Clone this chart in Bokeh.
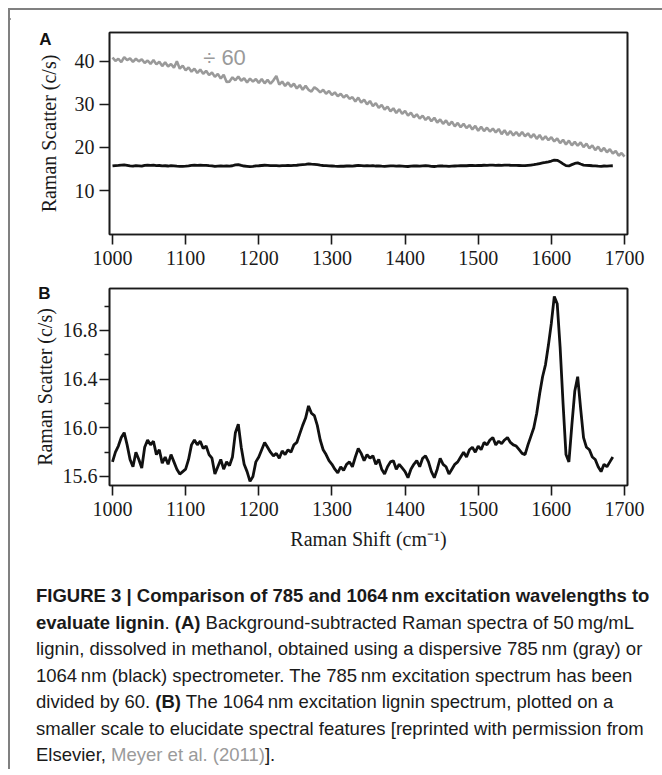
from bokeh.plotting import figure
from bokeh.models import (FixedTicker, PrintfTickFormatter, Label, Div, Range1d,
                          LinearAxis, CustomJSTickFormatter)
from bokeh.layouts import column, row
from bokeh.embed import file_html
from bokeh.resources import INLINE

# ---------------- data ----------------
shift_785 = list(range(1000, 1701, 4))
scatter_785_div60 = [
    40.9, 40.1, 40.6, 39.8, 41.0, 40.3, 40.7, 39.9, 40.6, 40.0,
    40.5, 39.6, 40.2, 39.4, 40.3, 39.3, 39.9, 38.9, 39.8, 38.8,
    39.4, 38.5, 40.0, 38.3, 39.0, 37.9, 38.6, 37.6, 38.3, 37.3,
    38.1, 37.1, 37.8, 36.8, 37.4, 36.4, 37.1, 36.0, 36.9, 35.2,
    35.3, 36.3, 35.6, 36.5, 35.5, 36.1, 35.1, 36.0, 35.3, 35.9,
    35.0, 35.9, 34.9, 35.7, 34.8, 35.6, 36.6, 34.6, 35.3, 34.3,
    35.1, 34.1, 34.8, 33.7, 34.5, 33.4, 34.3, 33.4, 33.0, 34.0,
    33.5, 32.8, 33.4, 32.5, 33.1, 32.2, 32.8, 31.9, 32.5, 31.6,
    32.2, 31.3, 31.7, 30.7, 31.6, 30.4, 31.1, 30.0, 30.8, 29.6,
    30.3, 29.2, 29.9, 28.8, 29.5, 28.4, 29.1, 28.0, 28.9, 27.8,
    28.5, 27.4, 28.1, 27.0, 27.7, 26.7, 27.4, 26.4, 27.1, 26.1,
    26.9, 25.8, 26.5, 25.5, 26.3, 25.2, 26.0, 24.9, 25.7, 24.7,
    25.5, 24.5, 25.2, 24.2, 25.0, 23.9, 24.8, 23.8, 24.6, 23.7,
    24.4, 23.5, 24.3, 23.1, 24.0, 22.9, 23.8, 22.8, 23.6, 22.7,
    23.6, 22.6, 23.3, 22.3, 23.1, 22.0, 22.9, 21.8, 22.6, 21.7,
    22.4, 21.4, 22.1, 21.0, 21.8, 20.7, 21.6, 20.5, 21.3, 20.4,
    21.2, 20.1, 20.9, 19.8, 20.5, 19.4, 20.2, 19.1, 19.9, 18.9,
    19.6, 18.6, 19.2, 18.1, 18.7, 17.9,
]

shift_1064 = list(range(1000, 1685, 4))
scatter_1064 = [
    15.72, 15.80, 15.85, 15.92, 15.96, 15.86, 15.74, 15.68, 15.80, 15.74,
    15.67, 15.84, 15.90, 15.86, 15.89, 15.78, 15.82, 15.71, 15.76, 15.70,
    15.78, 15.72, 15.66, 15.62, 15.64, 15.66, 15.74, 15.86, 15.90, 15.86,
    15.89, 15.83, 15.85, 15.78, 15.75, 15.62, 15.68, 15.74, 15.66, 15.72,
    15.69, 15.76, 15.96, 16.03, 15.84, 15.70, 15.64, 15.56, 15.60, 15.72,
    15.76, 15.82, 15.88, 15.84, 15.80, 15.77, 15.79, 15.75, 15.81, 15.78,
    15.82, 15.80, 15.86, 15.88, 15.95, 16.02, 16.08, 16.18, 16.12, 16.10,
    16.02, 15.90, 15.82, 15.78, 15.73, 15.70, 15.66, 15.63, 15.68, 15.65,
    15.70, 15.72, 15.68, 15.76, 15.83, 15.79, 15.73, 15.78, 15.75, 15.77,
    15.70, 15.74, 15.66, 15.62, 15.68, 15.72, 15.73, 15.66, 15.70, 15.67,
    15.64, 15.59, 15.66, 15.70, 15.73, 15.68, 15.75, 15.77, 15.72, 15.64,
    15.59, 15.66, 15.75, 15.70, 15.68, 15.62, 15.66, 15.70, 15.72, 15.76,
    15.80, 15.76, 15.82, 15.84, 15.80, 15.85, 15.82, 15.88, 15.86, 15.90,
    15.92, 15.86, 15.89, 15.87, 15.90, 15.92, 15.88, 15.86, 15.85, 15.82,
    15.79, 15.78, 15.86, 15.93, 16.00, 16.12, 16.28, 16.42, 16.52, 16.68,
    16.86, 17.08, 17.02, 16.66, 16.20, 15.78, 15.72, 16.02, 16.30, 16.42,
    16.16, 15.92, 15.84, 15.82, 15.76, 15.74, 15.68, 15.64, 15.70, 15.68,
    15.72, 15.76,
]

x_ticks = [1000, 1100, 1200, 1300, 1400, 1500, 1600, 1700]
y_ticks_a = [10, 20, 30, 40]
y_ticks_b = [15.6, 16.0, 16.4, 16.8]
y_minor_b = [15.8, 16.2, 16.6, 17.0]

SERIF = "Liberation Serif"
SANS = "Liberation Sans"
INK = "#1a1a1a"
FRAME_GRAY = "#808080"


def frame_axis():
    return LinearAxis(ticker=FixedTicker(ticks=[]), axis_line_color=INK,
                      axis_line_width=1.6, major_tick_out=0, major_tick_in=0,
                      minor_tick_out=0, minor_tick_in=0,
                      major_label_text_font_size="0px")


def letter_axis(letter, at, standoff):
    return LinearAxis(ticker=FixedTicker(ticks=[at]),
                      formatter=CustomJSTickFormatter(code="return '%s'" % letter),
                      axis_line_color=None, major_tick_out=0, major_tick_in=0,
                      minor_tick_out=0, minor_tick_in=0,
                      major_label_standoff=standoff,
                      major_label_text_font=SANS, major_label_text_font_style="bold",
                      major_label_text_font_size="17px", major_label_text_color="#111111")


def style(p, y_standoff, y_label_standoff):
    xa, ya = p.xaxis[0], p.yaxis[0]
    p.outline_line_color = INK
    p.outline_line_width = 1.6
    p.xgrid.visible = False
    p.ygrid.visible = False
    p.background_fill_color = "white"
    p.border_fill_color = "white"
    for ax in (xa, ya):
        ax.axis_line_color = INK
        ax.axis_line_width = 1.6
        ax.major_tick_line_color = INK
        ax.major_tick_line_width = 1.6
        ax.minor_tick_line_color = INK
        ax.minor_tick_line_width = 1.6
        ax.major_tick_out = 10
        ax.major_tick_in = 0
        ax.minor_tick_in = 0
        ax.major_label_text_font = SERIF
        ax.major_label_text_font_size = "20px"
        ax.major_label_text_color = INK
        ax.axis_label_text_font = SERIF
        ax.axis_label_text_font_size = "20px"
        ax.axis_label_text_font_style = "normal"
        ax.axis_label_text_color = INK
    xa.ticker = FixedTicker(ticks=x_ticks)
    xa.minor_tick_out = 0
    xa.major_label_standoff = 6
    ya.major_label_standoff = y_standoff
    ya.axis_label = "Raman Scatter (c/s)"
    ya.axis_label_standoff = y_label_standoff
    p.add_layout(frame_axis(), "above")
    p.add_layout(frame_axis(), "right")
    return xa, ya


# ---------------- panel A ----------------
pa = figure(width=652, height=268, output_backend="svg", toolbar_location=None,
            x_range=Range1d(995.9, 1704.1), y_range=Range1d(-0.2, 46.7),
            min_border_left=97, min_border_right=35, min_border_top=22,
            min_border_bottom=44, margin=0)
pa.line(shift_785, scatter_785_div60, line_color="#9a9a9a", line_width=2.6)
pa.line(shift_1064, scatter_1064, line_color="#111111", line_width=2.8)
xa_a, ya_a = style(pa, 5, 12)
ya_a.ticker = FixedTicker(ticks=y_ticks_a)
ya_a.minor_tick_out = 0
pa.add_layout(letter_axis("A", 45.0, -17), "left")
pa.add_layout(Label(x=1124, y=40.9, text="\u00f7 60", text_font=SANS,
                    text_font_size="22px", text_color="#9a9a9a",
                    text_baseline="middle", text_align="left"))

# ---------------- panel B ----------------
pb = figure(width=652, height=287, output_backend="svg", toolbar_location=None,
            x_range=Range1d(995.9, 1704.1), y_range=Range1d(15.526, 17.145),
            min_border_left=99, min_border_right=35, min_border_top=10,
            min_border_bottom=80, margin=0)
pb.line(shift_1064, scatter_1064, line_color="#111111", line_width=2.8)
xa_b, ya_b = style(pb, 2, 4)
ya_b.ticker = FixedTicker(ticks=y_ticks_b, minor_ticks=y_minor_b)
ya_b.minor_tick_out = 5
ya_b.formatter = PrintfTickFormatter(format="%.1f")
xa_b.axis_label = "Raman Shift (cm\u207b\u00b9)"
xa_b.axis_label_standoff = 9
pb.add_layout(letter_axis("B", 17.1, -20), "left")

# ---------------- caption ----------------
gray = "#9a9a9a"
caption_html = (
    "<div style=\"font-family:'Liberation Sans',Arial,sans-serif;font-size:18.5px;"
    "line-height:26.5px;color:#1a1a1a;padding-left:26px;padding-top:18px;white-space:nowrap;\">"
    "<b>FIGURE 3 | Comparison of 785 and 1064\u2009nm excitation wavelengths to</b><br>"
    "<b>evaluate lignin</b>. <b>(A)</b> Background-subtracted Raman spectra of 50\u2009mg/mL<br>"
    "lignin, dissolved in methanol, obtained using a dispersive 785\u2009nm (gray) or<br>"
    "1064\u2009nm (black) spectrometer. The 785\u2009nm excitation spectrum has been<br>"
    "divided by 60. <b>(B)</b> The 1064\u2009nm excitation lignin spectrum, plotted on a<br>"
    "smaller scale to elucidate spectral features [reprinted with permission from<br>"
    "Elsevier, <span style=\"color:" + gray + "\">Meyer et al. (2011)</span>]."
    "</div>"
)
caption = Div(text=caption_html, width=652, height=204, margin=0)

# outer frame lines of the figure panel
top_strip = Div(text="<div style=\"width:654px;height:2px;font-size:0;line-height:0;"
                     "background:" + FRAME_GRAY + ";\"></div>",
                width=654, height=2, margin=0,
                styles={"background-color": FRAME_GRAY, "overflow": "visible"})
left_strip = Div(text="<div style=\"width:2px;height:759px;background:" + FRAME_GRAY + ";\"></div>",
                 width=2, height=759, margin=0)

layout = column(top_strip,
                row(left_strip, column(pa, pb, caption, spacing=0, margin=0),
                    spacing=0, margin=0),
                spacing=0, margin=(8, 0, 0, 8))

open("out.html", "w").write(file_html(layout, INLINE))
